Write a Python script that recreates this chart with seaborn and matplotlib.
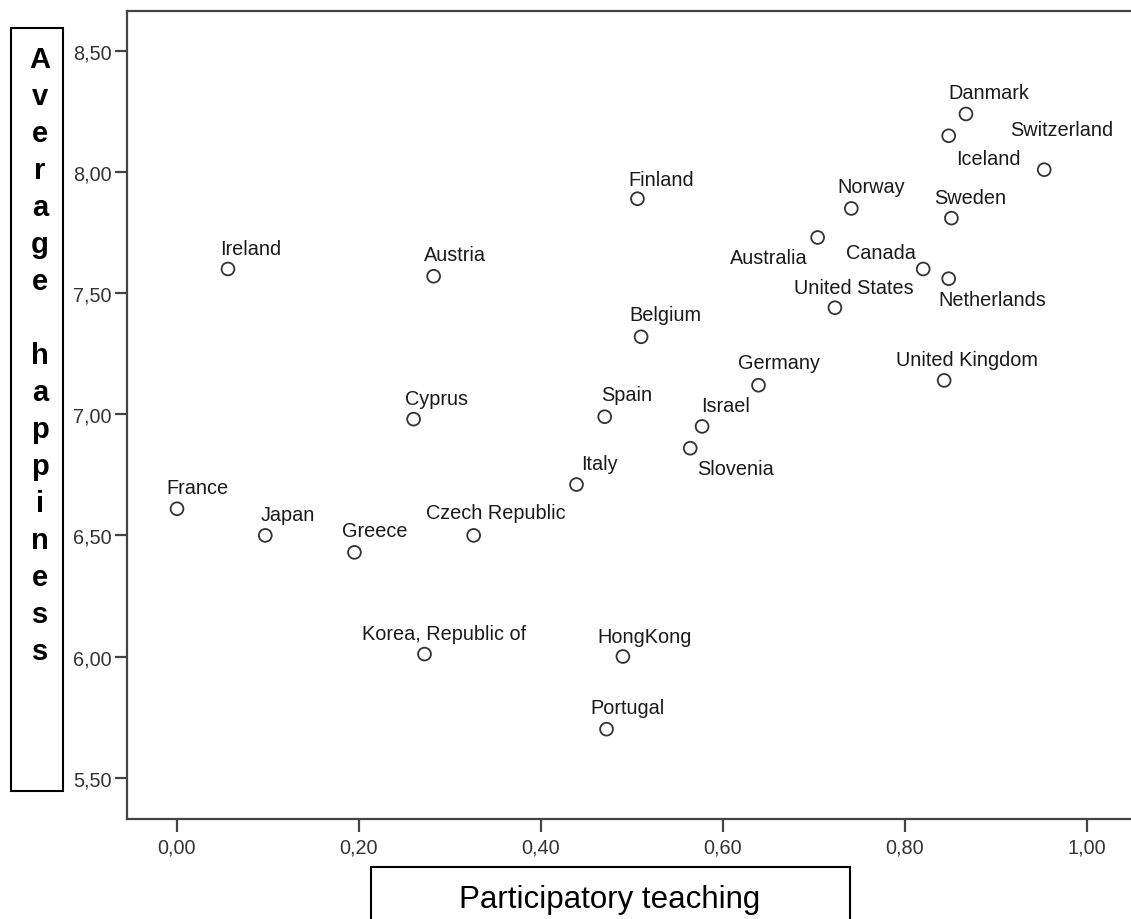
import matplotlib
matplotlib.use("Agg")
import matplotlib.pyplot as plt
import seaborn as sns
import pandas as pd
from matplotlib.patches import Rectangle
from matplotlib.ticker import FuncFormatter

# data
countries = ["France", "Ireland", "Japan", "Greece", "Korea, Republic of", "Cyprus",
             "Austria", "Czech Republic", "Italy", "Spain", "Portugal", "Finland",
             "Belgium", "HongKong", "Slovenia", "Israel", "Germany", "Australia",
             "United States", "Norway", "Canada", "United Kingdom", "Iceland",
             "Netherlands", "Sweden", "Danmark", "Switzerland"]
teaching = [0.000, 0.056, 0.097, 0.195, 0.272, 0.260, 0.282, 0.326, 0.439, 0.470,
            0.472, 0.506, 0.510, 0.490, 0.564, 0.577, 0.639, 0.704, 0.723, 0.741,
            0.820, 0.843, 0.848, 0.848, 0.851, 0.867, 0.953]
happiness = [6.61, 7.60, 6.50, 6.43, 6.01, 6.98, 7.57, 6.50, 6.71, 6.99, 5.70, 7.89,
             7.32, 6.00, 6.86, 6.95, 7.12, 7.73, 7.44, 7.85, 7.60, 7.14, 8.15, 7.56,
             7.81, 8.24, 8.01]
x_ticks = [0.0, 0.2, 0.4, 0.6, 0.8, 1.0]
y_ticks = [5.5, 6.0, 6.5, 7.0, 7.5, 8.0, 8.5]

# label placement in pixels (dx, dy down), default ha left
label_offsets = {
    "France": (-11, -16), "Ireland": (-8, -15), "Japan": (-5, -15), "Greece": (-12, -16),
    "Korea, Republic of": (-63, -15), "Cyprus": (-9, -15), "Austria": (-10, -16),
    "Czech Republic": (-48, -17), "Italy": (5, -16), "Spain": (-4, -17),
    "Portugal": (-16, -16), "Finland": (-9, -14), "Belgium": (-12, -17),
    "HongKong": (-26, -15), "Slovenia": (7, 26), "Israel": (-1, -15),
    "Germany": (-20, -17), "Australia": (-10, 26), "United States": (-41, -15),
    "Norway": (-14, -16), "Canada": (-77, -11), "United Kingdom": (-48, -15),
    "Iceland": (7, 28), "Netherlands": (-10, 26), "Sweden": (-17, -15),
    "Danmark": (-18, -16), "Switzerland": (-34, -35),
}

df = pd.DataFrame({"country": countries, "teaching": teaching, "happiness": happiness})

sns.set_style("white")
plt.rcParams["font.family"] = ["Liberation Sans", "DejaVu Sans"]

W, H = 1131, 920
fig = plt.figure(figsize=(W / 100, H / 100), dpi=100)
ax = fig.add_axes([127 / W, (H - 820) / H, (W - 127) / W, (820 - 12) / H])

sns.scatterplot(data=df, x="teaching", y="happiness", ax=ax, s=85,
                facecolors="none", edgecolor="#333333", linewidth=1.3, zorder=3)

for name, xv, yv in zip(countries, teaching, happiness):
    dx, dy = label_offsets[name]
    ha = "right" if name == "Australia" else "left"
    ax.annotate(name, (xv, yv), xytext=(dx * 0.72, -dy * 0.72), textcoords="offset points",
                ha=ha, va="baseline", fontsize=14.3, color="#1a1a1a")

ax.set_xlim((127 - 177) / 910, (W - 177) / 910)
ax.set_ylim(8.5 - (820 - 52) / 242.2, 8.5 + 40 / 242.2)
ax.set_xticks(x_ticks)
ax.set_yticks(y_ticks)
fmt = FuncFormatter(lambda v, p: f"{v:.2f}".replace(".", ","))
ax.xaxis.set_major_formatter(fmt)
ax.yaxis.set_major_formatter(fmt)
ax.set_xlabel("")
ax.set_ylabel("")
ax.tick_params(axis="both", direction="out", length=9, width=1.6, color="#444444",
               labelsize=14.3, labelcolor="#333333", left=True, bottom=True)
ax.tick_params(axis="x", pad=4)
ax.tick_params(axis="y", pad=2)
for side in ["left", "bottom", "top"]:
    ax.spines[side].set_color("#444444")
    ax.spines[side].set_linewidth(1.6)
ax.spines["right"].set_visible(False)


def px_rect(x0, y0, x1, y1):
    return Rectangle((x0 / W, 1 - y1 / H), (x1 - x0) / W, (y1 - y0) / H,
                     transform=fig.transFigure, fill=False, edgecolor="black",
                     linewidth=1.5, clip_on=False)


# y label: stacked letters in a box
fig.add_artist(px_rect(11, 29, 63, 792))
letters = list("Average") + [""] + list("happiness")
for i, ch in enumerate(letters):
    if ch:
        fig.text(40 / W, 1 - (68.3 + 37 * i) / H, ch, ha="center", va="baseline",
                 fontsize=21, fontweight="bold", color="black")

# x label in a box
fig.add_artist(px_rect(371, 868, 850, 930))
fig.text(610 / W, 1 - 908 / H, "Participatory teaching", ha="center", va="baseline",
         fontsize=22.5, color="black")

fig.savefig("out.png", dpi=100)
